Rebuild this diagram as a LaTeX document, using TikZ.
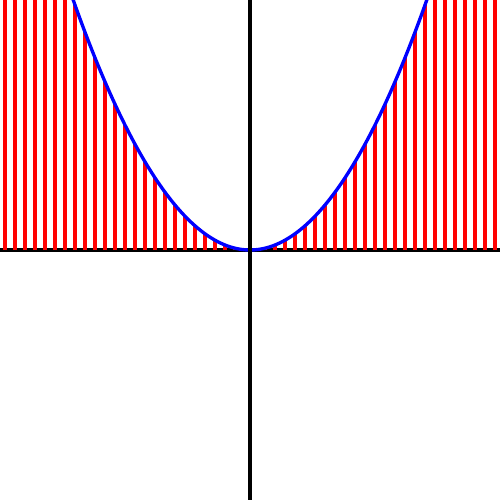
\documentclass[tikz,border=0pt]{standalone}
\usepackage{tikz}
\tikzset{
  axis/.style ={draw,black,line width=2pt},
  bar/.style  ={draw,red,line width=2.2pt},
  curve/.style={draw,blue,line width=1.9pt},
}
\begin{document}
\begin{tikzpicture}[scale=2.5]
  \useasboundingbox (-2,-2) rectangle (2,2);
  \clip (-2,-2) rectangle (2,2);
  \coordinate (west) at (-2,0);
  \coordinate (east) at (2,0);
  \coordinate (south) at (0,-2);
  \coordinate (north) at (0,2);
  \path[axis] (west) -- (east);
  \foreach \i in {0,...,49}{
    \pgfmathsetmacro{\xx}{-1.96+0.08*\i}
    \path[bar] (\xx,0) -- (\xx,{min(\xx*\xx,2.1)});
  }
  \path[curve] plot[domain=-1.45:1.45,samples=120,smooth] (\x,{\x*\x});
  \path[axis] (south) -- (north);
\end{tikzpicture}
\end{document}
